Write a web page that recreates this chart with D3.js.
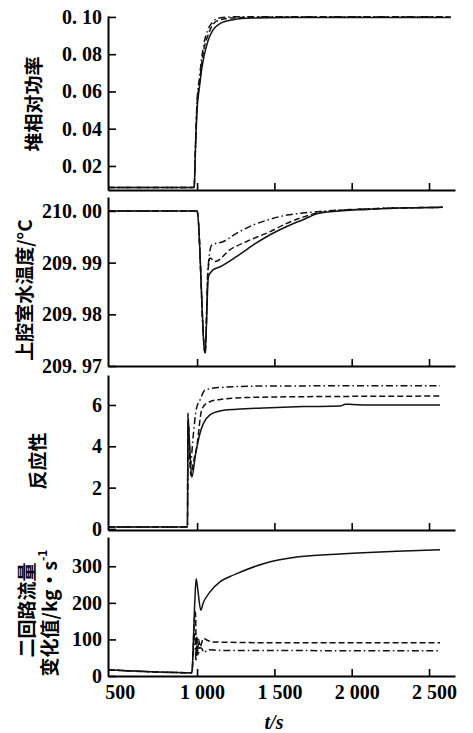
<!DOCTYPE html>
<html>
<head>
<meta charset="utf-8">
<script src="https://cdn.jsdelivr.net/npm/d3@7"></script>
<style>
  body { margin: 0; background: #fff; }
  .axis path, .axis line { stroke: #000; }
</style>
</head>
<body>
<svg id="chart" width="473" height="733"></svg>
<script>
// time axis
const tTicks = [500, 1000, 1500, 2000, 2500];
const tTickLabels = ["500", "1 000", "1 500", "2 000", "2 500"];

// 堆相对功率
const powerTicks = [0.02, 0.04, 0.06, 0.08, 0.10];
const powerTickLabels = ["0. 02", "0. 04", "0. 06", "0. 08", "0. 10"];
const powerSolid = [[424,0.0084],[981,0.0084],[990,0.030],[1000,0.050],[1015,0.062],[1030,0.072],[1045,0.079],[1070,0.087],[1103,0.093],[1150,0.0965],[1233,0.0985],[1350,0.0994],[1600,0.0997],[2640,0.0997]];
const powerDash = [[424,0.0084],[981,0.0084],[990,0.031],[1000,0.053],[1015,0.064],[1030,0.075],[1045,0.083],[1070,0.090],[1103,0.096],[1150,0.0985],[1250,0.0996],[1500,0.0999],[2640,0.0999]];
const powerDashDot = [[424,0.0084],[981,0.0084],[990,0.032],[1000,0.055],[1015,0.067],[1030,0.078],[1045,0.086],[1070,0.093],[1103,0.0975],[1150,0.0995],[1250,0.1001],[2640,0.1001]];

// 上腔室水温度
const tempTicks = [209.97, 209.98, 209.99, 210.00];
const tempTickLabels = ["209. 97", "209. 98", "209. 99", "210. 00"];
const tempSolid = [[424,210.0000],[1000,210.0000],[1052,209.9725],[1073,209.9872],[1103,209.9886],[1149,209.9892],[1257,209.9912],[1362,209.9934],[1472,209.9954],[1580,209.9970],[1685,209.9983],[1795,209.9996],[2100,210.0003],[2590,210.0007]];
const tempDash = [[424,210.0000],[1000,210.0000],[1052,209.9725],[1070,209.9880],[1084,209.9909],[1116,209.9902],[1213,209.9925],[1321,209.9941],[1472,209.9960],[1580,209.9976],[1685,209.9988],[1795,209.9997],[2100,210.0004],[2590,210.0007]];
const tempDashDot = [[424,210.0000],[1000,210.0000],[1052,209.9725],[1070,209.9885],[1095,209.9934],[1170,209.9941],[1257,209.9957],[1364,209.9973],[1472,209.9984],[1580,209.9992],[1685,209.9996],[1795,209.9999],[2100,210.0004],[2590,210.0007]];

// 反应性
const reactTicks = [0, 2, 4, 6];
const reactTickLabels = ["0", "2", "4", "6"];
const reactSolid = [[424,0.1],[938,0.1],[941,5.2],[966,2.5],[990,3.6],[1019,4.63],[1041,5.11],[1084,5.52],[1149,5.71],[1257,5.79],[1472,5.87],[1688,5.92],[1925,5.95],[1960,6.04],[1989,6.03],[2119,6.0],[2571,6.0]];
const reactDash = [[424,0.1],[938,0.1],[941,5.4],[960,2.6],[975,3.2],[998,3.98],[1030,5.76],[1063,6.08],[1149,6.27],[1364,6.37],[1685,6.40],[2571,6.43]];
const reactDashDot = [[424,0.1],[938,0.1],[941,5.6],[955,3.0],[975,4.5],[995,5.8],[1019,6.24],[1052,6.72],[1149,6.85],[1472,6.92],[2571,6.93]];

// 二回路流量变化值
const flowTicks = [0, 100, 200, 300];
const flowTickLabels = ["0", "100", "200", "300"];
const flowSolid = [[424,17],[966,9],[985,200],[994,266],[1005,235],[1024,180],[1040,200],[1084,230],[1150,258],[1213,272],[1257,280],[1429,307],[1645,325],[1860,332],[2075,337],[2291,341],[2571,345]];
const flowDash = [[424,17],[966,9],[984,160],[990,175],[995,60],[999,110],[1004,65],[1010,100],[1020,80],[1041,103],[1070,97],[1106,93],[1472,91],[2571,91]];
const flowDashDot = [[424,17],[966,9],[986,120],[993,40],[998,85],[1006,55],[1016,78],[1030,75],[1045,64],[1070,72],[1149,70],[2571,69]];

const svg = d3.select("#chart");
const left = 108, right = 455;
const x = d3.scaleLinear().domain([424, 2668]).range([left, right]);

const panels = [
  { series: [powerSolid, powerDash, powerDashDot], domain: [0.0071, 0.1005], range: [190, 16], ticks: powerTicks, labels: powerTickLabels },
  { series: [tempSolid, tempDash, tempDashDot], domain: [209.97, 210.0027], range: [366, 197], ticks: tempTicks, labels: tempTickLabels },
  { series: [reactSolid, reactDash, reactDashDot], domain: [-0.05, 7.45], range: [530, 375], ticks: reactTicks, labels: reactTickLabels },
  { series: [flowSolid, flowDash, flowDashDot], domain: [0, 380], range: [676, 537], ticks: flowTicks, labels: flowTickLabels }
];

const dashes = [null, "6,3", "7,3,1.5,3"];
const numFont = "'Liberation Serif', 'DejaVu Serif', serif";
const cjkFont = "'Noto Sans CJK SC', sans-serif";

panels.forEach(function(p, i) {
  const y = d3.scaleLinear().domain(p.domain).range(p.range);
  const g = svg.append("g");

  const line = d3.line().curve(d3.curveMonotoneX).x(d => x(d[0])).y(d => y(d[1]));
  p.series.forEach(function(s, k) {
    g.append("path")
      .datum(s)
      .attr("d", line)
      .attr("fill", "none")
      .attr("stroke", "#111")
      .attr("stroke-width", 1.5)
      .attr("stroke-linejoin", "round")
      .attr("stroke-dasharray", dashes[k]);
  });

  const ya = g.append("g")
    .attr("class", "axis")
    .attr("transform", "translate(" + left + ",0)")
    .call(d3.axisLeft(y).tickValues(p.ticks)
      .tickFormat((d, j) => p.labels[j])
      .tickSizeInner(-8).tickSizeOuter(0).tickPadding(6));

  const xa = g.append("g")
    .attr("class", "axis")
    .attr("transform", "translate(0," + p.range[0] + ")")
    .call(d3.axisBottom(x).tickValues(tTicks)
      .tickFormat(i === 3 ? (d, j) => tTickLabels[j] : "")
      .tickSizeInner(-7).tickSizeOuter(0).tickPadding(9));

  [ya, xa].forEach(function(a) {
    a.attr("font-family", numFont).attr("font-size", 20).attr("font-weight", "bold");
    a.select(".domain").attr("stroke-width", 2);
    a.selectAll(".tick line").attr("stroke-width", 1.6);
    a.selectAll(".tick text").attr("fill", "#000");
  });
  xa.selectAll(".tick").filter(d => d === 500).select("line").remove();
  xa.selectAll(".tick").filter(d => d >= 1000).select("text").attr("dx", 5);
});

// y labels
function yLabel(cx, cy, txt) {
  return svg.append("text")
    .attr("transform", "translate(" + cx + "," + cy + ") rotate(-90)")
    .attr("text-anchor", "middle")
    .attr("dominant-baseline", "central")
    .attr("font-family", cjkFont)
    .attr("font-weight", "bold")
    .attr("font-size", 19)
    .text(txt);
}
yLabel(32, 104, "堆相对功率");
yLabel(23, 290, "上腔室水温度/°C");
yLabel(36, 461, "反应性");
yLabel(25, 610, "二回路流量");
const fl = yLabel(48, 613, "变化值/kg·s");
fl.append("tspan").attr("dy", -7).attr("font-size", 12).text("-1");

svg.append("text")
  .attr("x", 274).attr("y", 729)
  .attr("text-anchor", "middle")
  .attr("font-family", numFont)
  .attr("font-style", "italic")
  .attr("font-weight", "bold")
  .attr("font-size", 20)
  .text("t/s");
</script>
</body>
</html>
